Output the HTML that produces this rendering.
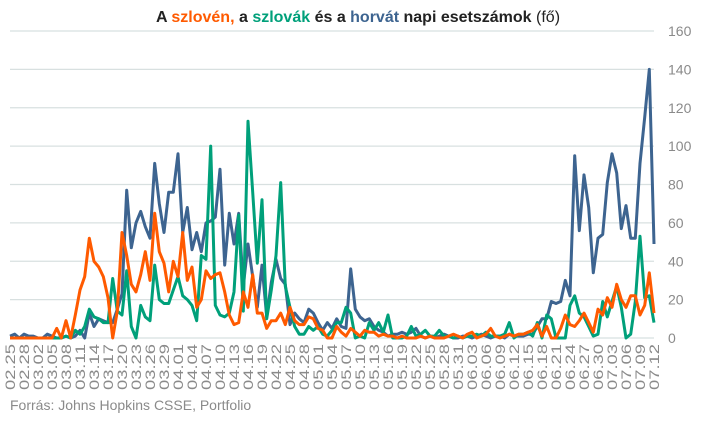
<!DOCTYPE html>
<html><head><meta charset="utf-8"><style>
body{margin:0;background:#fff;}
svg text{font-family:"Liberation Sans",sans-serif;}
</style></head><body>
<svg width="716" height="418" viewBox="0 0 716 418" xmlns="http://www.w3.org/2000/svg">
<text x="358" y="22" text-anchor="middle" font-size="16" font-weight="bold"><tspan fill="#222">A </tspan><tspan fill="#ff5a00">szlovén,</tspan><tspan fill="#222"> a </tspan><tspan fill="#00a07a">szlovák</tspan><tspan fill="#222"> és a </tspan><tspan fill="#3d6490">horvát</tspan><tspan fill="#222"> napi esetszámok </tspan><tspan fill="#222" font-weight="normal">(fő)</tspan></text>
<g id="grid"></g>
<g id="yaxis"></g>
<g id="xaxis"></g>
<g id="series"></g>
<text x="10" y="410" font-size="14" fill="#8a8a8a">Forrás: Johns Hopkins CSSE, Portfolio</text>
</svg>
<script>
const startDate = [2, 25];
const yTicks = [0, 20, 40, 60, 80, 100, 120, 140, 160];
const croatia = [1,2,0,2,1,1,0,0,2,1,0,0,1,0,1,4,0,13,6,10,9,8,8,15,23,77,47,60,66,58,52,91,70,55,76,76,96,55,68,46,55,45,60,61,63,88,38,65,49,65,27,49,32,16,38,11,29,41,31,28,7,13,10,8,15,13,8,4,8,5,10,6,5,36,15,11,9,10,6,4,3,1,2,2,3,2,3,5,1,0,1,0,1,2,1,0,0,1,1,0,1,2,1,0,1,1,0,2,1,1,1,2,2,6,10,10,19,18,19,30,22,95,56,85,68,34,52,54,81,96,86,57,69,52,52,91,115,140,49];
const slovenia = [0,0,0,0,0,0,0,0,0,0,5,0,9,0,12,25,32,52,40,37,32,21,0,14,55,43,28,24,33,45,30,65,45,39,24,40,32,55,30,37,16,20,35,31,33,34,24,12,7,8,24,16,33,13,13,5,9,9,13,7,16,9,7,7,11,10,5,4,0,0,6,3,1,5,3,1,4,3,3,1,2,1,1,0,1,0,0,0,1,0,1,0,0,0,1,2,1,0,2,3,0,1,2,5,1,0,1,2,1,2,2,3,4,7,1,6,0,0,5,12,7,6,9,13,8,3,15,12,21,16,28,20,16,22,22,12,17,34,13];
const slovakia = [0,0,0,0,0,0,0,0,0,0,0,0,1,0,4,2,6,15,11,10,8,8,31,14,12,35,6,0,17,11,9,38,20,18,18,25,32,22,20,17,9,43,41,100,17,12,11,13,24,64,14,113,76,39,72,10,25,43,81,27,16,6,2,2,6,4,6,2,1,4,8,8,16,13,0,1,0,8,4,8,3,12,0,0,0,1,6,1,2,4,1,1,4,1,1,0,1,0,1,1,2,1,3,1,1,1,2,8,0,2,2,3,1,8,0,12,10,0,0,0,17,22,13,11,6,1,2,19,11,19,27,16,0,2,19,53,21,22,8];
const seriesColors = ['#3d6490','#00a07a','#ff5a00'];

const X0 = 10, X1 = 654, Y0 = 338, Y1 = 31;
const nDays = croatia.length;
const xScale = i => X0 + (X1 - X0) * i / (nDays - 1);
const yScale = v => Y0 - (Y0 - Y1) * v / 160;
const NS = 'http://www.w3.org/2000/svg';
function mk(tag, attrs, parent){const e=document.createElementNS(NS,tag);for(const k in attrs)e.setAttribute(k,attrs[k]);parent.appendChild(e);return e;}

const grid = document.getElementById('grid'), yaxis = document.getElementById('yaxis');
yTicks.forEach(t => {
  const l = mk('line', {x1:X0, x2:X1, y1:yScale(t), y2:yScale(t), stroke:'#d8e0e0', 'stroke-width':1.3}, grid);
  
  
  const tx = mk('text', {x:668, y:yScale(t)+5, 'font-size':14, fill:'#8a8a8a'}, yaxis);
  tx.textContent = t;
  
  
});

// date labels every 3 days
const monthDays = {2:29,3:31,4:30,5:31,6:30,7:31};
const dates = [];
{let m=startDate[0], d=startDate[1];
 for(let i=0;i<nDays;i++){dates.push(String(m).padStart(2,'0')+'.'+String(d).padStart(2,'0'));d++;if(d>monthDays[m]){d=1;m++;}}}
const xaxis = document.getElementById('xaxis');
for(let i=0;i<nDays;i+=3){
  const x = xScale(i)+5, y = 344;
  const tx = mk('text', {x:x, y:y, transform:`rotate(-90 ${x} ${y})`, 'text-anchor':'end', 'font-size':14, fill:'#8a8a8a', textLength:46, lengthAdjust:'spacingAndGlyphs'}, xaxis);
  tx.textContent = dates[i];
  
  
}

const sg = document.getElementById('series');
const allSeries = [croatia, slovakia, slovenia];
const names = ['croatia-line','slovakia-line','slovenia-line'];
[2,1,0].forEach(k => {});
[0,1,2].forEach(k => {
  const pts = allSeries[k].map((v,i)=>xScale(i).toFixed(1)+','+yScale(v).toFixed(1)).join(' ');
  const p = mk('polyline', {points:pts, fill:'none', stroke:seriesColors[k], 'stroke-width':3, 'stroke-linejoin':'round'}, sg);
  
  
});
</script>
</body></html>
